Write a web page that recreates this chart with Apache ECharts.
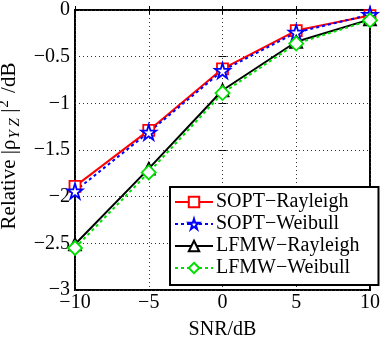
<!DOCTYPE html>
<html>
<head>
<meta charset="utf-8">
<script src="https://cdn.jsdelivr.net/npm/echarts@6/dist/echarts.min.js"></script>
<style>
  html, body { margin: 0; padding: 0; background: #fff; }
  #chart { width: 381px; height: 339px; }
</style>
</head>
<body>
<div id="chart"></div>
<script>
// SNR values on the x axis (dB)
const snr = [-10, -5, 0, 5, 10]

// relative |rho_YZ|^2 in dB
const soptRayleigh = [-1.89, -1.29, -0.63, -0.22, -0.06]
const soptWeibull = [-1.94, -1.31, -0.65, -0.24, -0.05]
const lfmwRayleigh = [-2.51, -1.70, -0.86, -0.34, -0.10]
const lfmwWeibull = [-2.55, -1.74, -0.89, -0.36, -0.11]

const seriesNames = ['SOPT\u2212Rayleigh', 'SOPT\u2212Weibull', 'LFMW\u2212Rayleigh', 'LFMW\u2212Weibull']

const FONT = 'Liberation Serif'
const STAR = 'path://M50,0 L61,35 L98,35 L68,57 L79,91 L50,70 L21,91 L32,57 L2,35 L39,35 Z'

const minus = (v) => String(v).replace('-', '\u2212')

const toPairs = (ys) => snr.map((x, i) => [x, ys[i]])

const makeSeries = (name, ys, color, type, symbol, size) => ({
  name,
  type: 'line',
  data: toPairs(ys),
  symbol,
  symbolSize: size,
  showAllSymbol: true,
  lineStyle: { color, width: 2, type },
  itemStyle: { color: '#fff', borderColor: color, borderWidth: 1.8 },
  emphasis: { disabled: true },
  z: 3
})

const chart = echarts.init(document.getElementById('chart'))

chart.setOption({
  animation: false,
  textStyle: { fontFamily: FONT },
  grid: {
    left: 75, right: 11, top: 10, bottom: 49,
    containLabel: false,
    outerBoundsMode: 'none',
    show: true, borderColor: '#000', borderWidth: 2, backgroundColor: 'transparent'
  },
  legend: {
    data: seriesNames,
    orient: 'vertical',
    left: 170,
    top: 187,
    itemWidth: 38,
    itemHeight: 13,
    itemGap: 2,
    padding: [5, 19, 7, 4],
    backgroundColor: '#fff',
    borderColor: '#000',
    borderWidth: 2,
    textStyle: { fontFamily: FONT, fontSize: 20, color: '#000', padding: [0, 0, 0, -2] }
  },
  xAxis: [
    {
      type: 'value', min: -10, max: 10, interval: 5,
      name: 'SNR/dB', nameLocation: 'middle', nameGap: 30,
      nameTextStyle: { fontFamily: FONT, fontSize: 20, color: '#000' },
      axisLine: { show: false },
      axisTick: { inside: true, length: 4, lineStyle: { color: '#000' } },
      axisLabel: { fontFamily: FONT, fontSize: 20, color: '#000', margin: 3, formatter: minus },
      splitLine: { show: true, lineStyle: { color: '#333', type: [1, 3], width: 1 } }
    },
    {
      type: 'value', min: -10, max: 10, interval: 5, position: 'top',
      axisLine: { show: false },
      axisTick: { inside: true, length: 4, lineStyle: { color: '#000' } },
      axisLabel: { show: false },
      splitLine: { show: false }
    }
  ],
  yAxis: [
    {
      type: 'value', min: -3, max: 0, interval: 0.5,
      name: '{t|Relative |\u03c1}{s|Y Z}{t| |}{p|2}{t| /dB}',
      nameLocation: 'middle', nameGap: 47,
      nameTextStyle: {
        color: '#000',
        padding: [0, 0, 0, 8],
        rich: {
          t: { fontFamily: FONT, fontSize: 21, color: '#000', lineHeight: 26 },
          s: { fontFamily: FONT, fontSize: 15, fontStyle: 'italic', color: '#000', verticalAlign: 'bottom', lineHeight: 26, padding: [6, 0, 0, 1] },
          p: { fontFamily: FONT, fontSize: 15, color: '#000', verticalAlign: 'top', lineHeight: 26, padding: [0, 2, 8, 1] }
        }
      },
      axisLine: { show: false },
      axisTick: { inside: true, length: 4, lineStyle: { color: '#000' } },
      axisLabel: { fontFamily: FONT, fontSize: 20, color: '#000', margin: 5, formatter: minus },
      splitLine: { show: true, lineStyle: { color: '#333', type: [1, 3], width: 1 } }
    },
    {
      type: 'value', min: -3, max: 0, interval: 0.5, position: 'right',
      axisLine: { show: false },
      axisTick: { inside: true, length: 4, lineStyle: { color: '#000' } },
      axisLabel: { show: false },
      splitLine: { show: false }
    }
  ],
  series: [
    makeSeries(seriesNames[0], soptRayleigh, '#ff0000', 'solid', 'rect', 11),
    makeSeries(seriesNames[1], soptWeibull, '#0000ff', [3, 3], STAR, 15),
    makeSeries(seriesNames[2], lfmwRayleigh, '#000000', 'solid', 'triangle', 12),
    makeSeries(seriesNames[3], lfmwWeibull, '#00e000', [3, 3], 'diamond', 14)
  ]
})
</script>
</body>
</html>
